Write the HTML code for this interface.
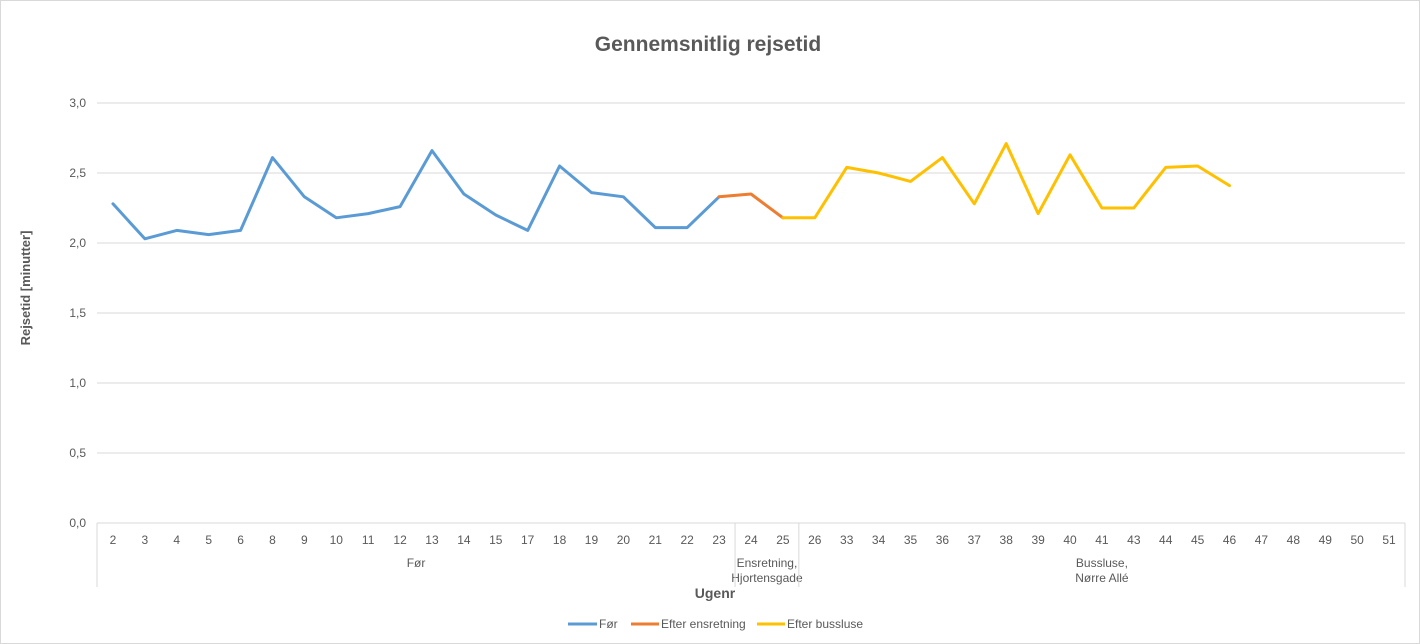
<!DOCTYPE html>
<html><head><meta charset="utf-8"><style>
body{margin:0;background:#fff}
svg{display:block;font-family:"Liberation Sans",sans-serif}
</style></head><body>
<svg id="chart" width="1420" height="644" viewBox="0 0 1420 644">
<rect x="0.5" y="0.5" width="1419" height="643" fill="#fff" stroke="#d9d9d9"/>
<text x="708" y="51" text-anchor="middle" font-size="21" font-weight="bold" fill="#595959">Gennemsnitlig rejsetid</text>
<text transform="translate(30,288) rotate(-90)" text-anchor="middle" font-size="13" font-weight="bold" fill="#595959">Rejsetid [minutter]</text>
<text x="715" y="598" text-anchor="middle" font-size="14" font-weight="bold" fill="#595959">Ugenr</text>
<g id="grid"></g><g id="xaxis"></g><g id="series"></g>
<g>
<line x1="568" y1="624" x2="597" y2="624" stroke="#5b9bd5" stroke-width="3"/>
<text x="599" y="628" font-size="12" fill="#595959">Før</text>
<line x1="631" y1="624" x2="659" y2="624" stroke="#ed7d31" stroke-width="3"/>
<text x="661" y="628" font-size="12" fill="#595959">Efter ensretning</text>
<line x1="757" y1="624" x2="785" y2="624" stroke="#ffc000" stroke-width="3"/>
<text x="787" y="628" font-size="12" fill="#595959">Efter bussluse</text>
</g>
</svg>
<script>
const categories=["2","3","4","5","6","8","9","10","11","12","13","14","15","17","18","19","20","21","22","23","24","25","26","33","34","35","36","37","38","39","40","41","43","44","45","46","47","48","49","50","51"];
const foer=[2.28,2.03,2.09,2.06,2.09,2.61,2.33,2.18,2.21,2.26,2.66,2.35,2.2,2.09,2.55,2.36,2.33,2.11,2.11,2.33];
const ensretning=[2.33,2.35,2.18];
const bussluse=[2.18,2.18,2.54,2.5,2.44,2.61,2.28,2.71,2.21,2.63,2.25,2.25,2.54,2.55,2.41];
const yTicks=[0,0.5,1,1.5,2,2.5,3];
const yTickLabels=["0,0","0,5","1,0","1,5","2,0","2,5","3,0"];
const groups=[{label:["Før"],start:0,end:20},{label:["Ensretning,","Hjortensgade"],start:20,end:22},{label:["Bussluse,","Nørre Allé"],start:22,end:41}];
const ns="http://www.w3.org/2000/svg";
const L=97,R=1405,T=103,B=523;
const bw=(R-L)/categories.length;
const x=i=>L+bw*(i+0.5);
const y=v=>B-(v/3)*(B-T);
function mk(tag,attrs,parent){const e=document.createElementNS(ns,tag);for(const k in attrs)e.setAttribute(k,attrs[k]);parent.appendChild(e);return e;}
const grid=document.getElementById('grid'),xa=document.getElementById('xaxis'),ser=document.getElementById('series');
yTicks.forEach((t,i)=>{
 const l=mk('line',{x1:L,x2:R,y1:y(t),y2:y(t),stroke:'#d9d9d9','stroke-width':1},grid);
 
 
 const tx=mk('text',{x:86,y:y(t)+4,'text-anchor':'end','font-size':12,fill:'#595959'},grid);
 tx.textContent=yTickLabels[i];
 
 
});
categories.forEach((c,i)=>{
 const t=mk('text',{x:x(i),y:544,'text-anchor':'middle','font-size':12,fill:'#595959'},xa);
 t.textContent=c;
 
 
});
groups.forEach(g=>{
 const xs=L+bw*g.start, xe=L+bw*g.end, cx=(xs+xe)/2;
 g.label.forEach((s,j)=>{
  const t=mk('text',{x:cx,y:g.label.length==1?567:567+j*15,'text-anchor':'middle','font-size':12,fill:'#595959'},xa);
  t.textContent=s;
  
  
 });
 const l=mk('line',{x1:xs,x2:xs,y1:B,y2:587,stroke:'#d9d9d9'},xa);
 
 
});
const lr=mk('line',{x1:R,x2:R,y1:B,y2:587,stroke:'#d9d9d9'},xa);


function line(vals,off,color,name){
 const p=mk('polyline',{points:vals.map((v,i)=>x(i+off)+','+y(v)).join(' '),fill:'none',stroke:color,'stroke-width':3,'stroke-linejoin':'round','stroke-linecap':'round'},ser);
 
 
}
line(foer,0,'#5b9bd5','series-foer');
line(ensretning,19,'#ed7d31','series-efter-ensretning');
line(bussluse,21,'#ffc000','series-efter-bussluse');
</script>
</body></html>
